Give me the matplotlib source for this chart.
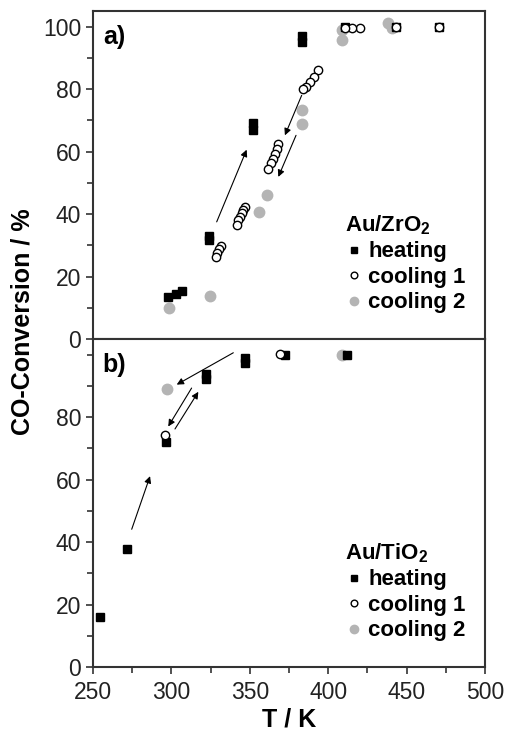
#!/usr/bin/env python3
"""
CO conversion vs temperature for Au/ZrO2 and Au/TiO2 (heating / cooling cycles).
"""
import matplotlib
matplotlib.use("Agg")
import matplotlib.pyplot as plt
from matplotlib.ticker import MultipleLocator

plt.rcParams["font.family"] = ["Liberation Sans", "DejaVu Sans"]
plt.rcParams["mathtext.fontset"] = "custom"
plt.rcParams["mathtext.bf"] = "Liberation Sans:bold"
plt.rcParams["mathtext.rm"] = "Liberation Sans"

# --- a) Au/ZrO2 ---
zr_heat_T = [298, 303, 307, 324, 324, 352, 352, 383, 383, 411, 443, 471]
zr_heat_C = [13.5, 14.4, 15.4, 31.6, 33.0, 67.0, 69.0, 95.0, 97.0, 100, 100, 100]
zr_cool1_T = [471, 443, 420, 415, 411, 393.7, 391, 388.4, 385.8, 383.7,
              368.2, 367.1, 366.1, 364.6, 363.3, 361.8,
              346.9, 345.9, 344.8, 343.8, 342.7, 341.6,
              331.6, 330.5, 329.3, 328.3]
zr_cool1_C = [100, 100, 99.4, 99.4, 99.4, 86.2, 83.8, 82.2, 80.6, 80.1,
              62.5, 60.9, 59.3, 57.7, 56.3, 54.5,
              42.3, 41.2, 40.2, 39.1, 38.0, 36.4,
              29.7, 28.7, 27.6, 26.3]
zr_cool2_T = [438.3, 440.5, 408.6, 408.6, 383.5, 383.3, 360.8, 355.9, 324.6, 298.5]
zr_cool2_C = [101, 99.5, 99, 95.7, 73.2, 68.7, 46, 40.5, 13.7, 10]
# arrows: (T_start, C_start, T_end, C_end)
zr_arrows = [(328.9, 37.5, 348.0, 60.6),
             (383.1, 78.0, 372.4, 65.2),
             (379.5, 65.2, 368.2, 51.9)]

# --- b) Au/TiO2 ---
ti_heat_T = [254.5, 271.5, 296.6, 321.9, 321.9, 346.9, 346.9, 372.4, 411.8]
ti_heat_C = [16.1, 37.8, 72.1, 92.2, 93.8, 97.2, 98.8, 99.8, 99.8]
ti_cool1_T = [369.3, 296]
ti_cool1_C = [100.2, 74.2]
ti_cool2_T = [408.6, 297.4]
ti_cool2_C = [100, 89]
ti_arrows = [(339.5, 100.6, 303.4, 90.4),
             (312.9, 89.3, 298.0, 77.0),
             (302.3, 76.2, 317.2, 88.1),
             (274.7, 44.1, 286.4, 61.1)]

GRAY = "#b4b4b4"


def draw_panel(ax, heat, cool1, cool2, arrows, title, tag, legend_anchor):
    ax.plot(*heat, ls="none", marker="s", ms=6, color="black", zorder=3,
            label="heating")
    ax.plot(*cool1, ls="none", marker="o", ms=6, mfc="white", mec="black",
            mew=1.0, zorder=4, label="cooling 1")
    ax.plot(*cool2, ls="none", marker="o", ms=7.5, color=GRAY, zorder=2,
            label="cooling 2")
    for t0, c0, t1, c1 in arrows:
        ax.annotate("", xy=(t1, c1), xytext=(t0, c0),
                    arrowprops=dict(arrowstyle="-|>", color="black", lw=0.8,
                                    mutation_scale=10, shrinkA=0, shrinkB=0))
    ax.text(0.025, 0.92, tag, transform=ax.transAxes, fontsize=18,
            fontweight="bold", va="center")
    leg = ax.legend(loc="upper left", bbox_to_anchor=legend_anchor, frameon=False,
                    title=title, handletextpad=0.25, handlelength=0.8,
                    borderaxespad=0, labelspacing=0.2, markerscale=0.8,
                    prop={"size": 16, "weight": "bold"},
                    title_fontproperties={"size": 16, "weight": "bold"})
    leg._legend_box.align = "left"

    ax.set_xlim(250, 500)
    ax.set_ylim(0, 105)
    ax.xaxis.set_major_locator(MultipleLocator(50))
    ax.xaxis.set_minor_locator(MultipleLocator(25))
    ax.yaxis.set_major_locator(MultipleLocator(20))
    ax.yaxis.set_minor_locator(MultipleLocator(10))
    ax.tick_params(axis="both", which="both", direction="out", labelsize=16.5,
                   width=1.2, color="#333333", labelcolor="#222222")
    ax.tick_params(axis="x", pad=5)
    ax.tick_params(axis="y", pad=3.5)
    ax.tick_params(which="major", length=5)
    ax.tick_params(which="minor", length=4)
    for sp in ax.spines.values():
        sp.set_linewidth(1.5)
        sp.set_color("#333333")


fig = plt.figure(figsize=(5.12, 7.33), dpi=100)
ax_a = fig.add_axes([0.1816, 0.5375, 0.7656, 0.4475])
ax_b = fig.add_axes([0.1816, 0.09, 0.7656, 0.4475])

draw_panel(ax_a, (zr_heat_T, zr_heat_C), (zr_cool1_T, zr_cool1_C),
           (zr_cool2_T, zr_cool2_C), zr_arrows, "Au/ZrO$_\\mathbf{2}$", "a)",
           (0.62, 0.41))
draw_panel(ax_b, (ti_heat_T, ti_heat_C), (ti_cool1_T, ti_cool1_C),
           (ti_cool2_T, ti_cool2_C), ti_arrows, "Au/TiO$_\\mathbf{2}$", "b)",
           (0.62, 0.41))

ax_a.tick_params(axis="x", labelbottom=False)
ax_b.set_yticks([0, 20, 40, 60, 80])

fig.text(0.043, 0.561, "CO-Conversion / %", rotation=90, ha="center",
         va="center", fontsize=18, fontweight="bold")
fig.text(0.565, 0.018, "T / K", ha="center", va="center", fontsize=18,
         fontweight="bold")

fig.savefig("out.png", dpi=100)
